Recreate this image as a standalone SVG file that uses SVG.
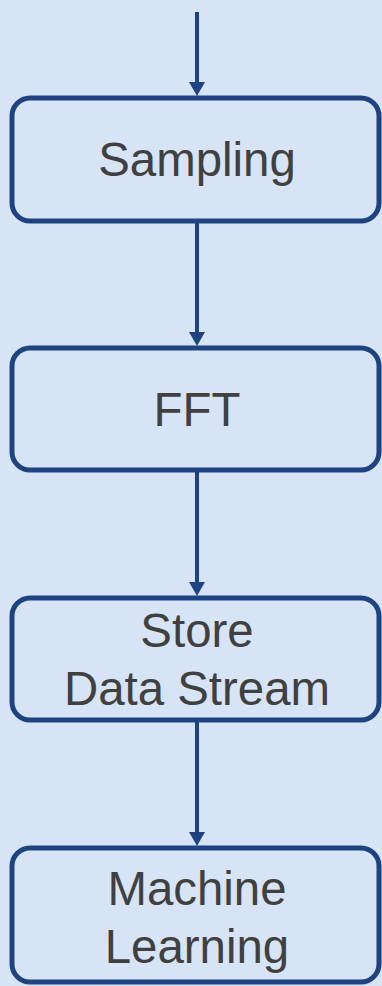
<svg xmlns="http://www.w3.org/2000/svg" width="382" height="986" viewBox="0 0 382 986">
<defs>
<style>
.node rect{fill:#D6E4F5;stroke:#1F4381;stroke-width:5}
.node text{font-family:"Liberation Sans",Arial,sans-serif;font-size:47.4px;fill:#404040;text-anchor:middle}
.conn line{stroke:#1F4381;stroke-width:4}
.conn path{fill:#1F4381}
</style>
</defs>
<rect x="0" y="0" width="382" height="986" fill="#D6E4F5"/>
<g id="connectors" class="conn">
<line x1="197" y1="12" x2="197" y2="84"/>
<path d="M189,82 L205,82 L197,96 Z"/>
<line x1="197" y1="221" x2="197" y2="334"/>
<path d="M189,332 L205,332 L197,346 Z"/>
<line x1="197" y1="470" x2="197" y2="584"/>
<path d="M189,582 L205,582 L197,596 Z"/>
<line x1="197" y1="720" x2="197" y2="834"/>
<path d="M189,832 L205,832 L197,846 Z"/>
</g>
<g id="sampling" class="node">
<rect x="12" y="98" width="367" height="123" rx="18" ry="18"/>
<text x="197" y="176">Sampling</text>
</g>
<g id="fft" class="node">
<rect x="12" y="348" width="367" height="122" rx="18" ry="18"/>
<text x="197" y="426">FFT</text>
</g>
<g id="store" class="node">
<rect x="12" y="598" width="367" height="122" rx="18" ry="18"/>
<text x="197" y="647">Store</text>
<text x="197" y="705">Data Stream</text>
</g>
<g id="ml" class="node">
<rect x="12" y="848" width="367" height="134" rx="18" ry="18"/>
<text x="197" y="905">Machine</text>
<text x="197" y="963">Learning</text>
</g>
</svg>
